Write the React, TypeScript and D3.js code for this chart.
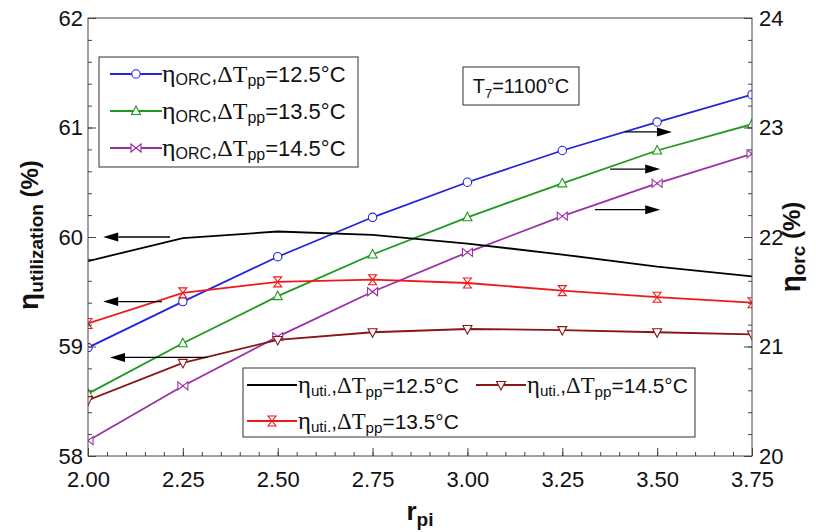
import React, { useEffect, useRef } from "react";
import * as d3 from "d3";

// data
const rpi = [2.0, 2.25, 2.5, 2.75, 3.0, 3.25, 3.5, 3.75];

// ORC efficiency (right axis, %)
const orc125 = [20.99, 21.41, 21.82, 22.18, 22.5, 22.79, 23.05, 23.3];
const orc135 = [20.57, 21.03, 21.46, 21.84, 22.18, 22.49, 22.79, 23.03];
const orc145 = [20.14, 20.64, 21.09, 21.5, 21.86, 22.19, 22.49, 22.76];

// utilization efficiency (left axis, %)
const uti125 = [59.78, 59.99, 60.05, 60.02, 59.94, 59.84, 59.73, 59.64];
const uti135 = [59.21, 59.49, 59.59, 59.61, 59.58, 59.51, 59.45, 59.4];
const uti145 = [58.51, 58.85, 59.06, 59.13, 59.16, 59.15, 59.13, 59.11];

const xTicks = [2.0, 2.25, 2.5, 2.75, 3.0, 3.25, 3.5, 3.75];
const leftTicks = [58, 59, 60, 61, 62];
const rightTicks = [20, 21, 22, 23, 24];

// arrows: [y, fromX, toX]
const leftArrows = [
  [60.0, 2.216, 2.04],
  [59.41, 2.195, 2.04],
  [58.9, 2.314, 2.058],
];
const rightArrows = [
  [22.96, 3.415, 3.539],
  [22.62, 3.376, 3.508],
  [22.25, 3.336, 3.508],
];

const W = 816;
const H = 532;
const M = { left: 88, right: 752, top: 18, bottom: 456 };

const x = d3.scaleLinear().domain([2, 3.75]).range([M.left, M.right]);
const yL = d3.scaleLinear().domain([58, 62]).range([M.bottom, M.top]);
const yR = d3.scaleLinear().domain([20, 24]).range([M.bottom, M.top]);

const SANS = "'Liberation Sans', Arial, sans-serif";
const SERIF = "'Liberation Serif', 'Times New Roman', serif";

const markerPath = (kind) => {
  if (kind === "circle") return d3.symbol(d3.symbolCircle, 55)();
  if (kind === "up") return "M0,-5L4.5,3.5L-4.5,3.5Z";
  if (kind === "down") return "M0,5L4.5,-3.5L-4.5,-3.5Z";
  if (kind === "bowtie") return "M-5,-4L-5,4L5,-4L5,4Z";
  if (kind === "hourglass") return "M-4,-5L4,-5L-4,5L4,5Z";
  return null;
};

const series = [
  { vals: orc125, scale: yR, color: "#2424dc", marker: "circle" },
  { vals: orc135, scale: yR, color: "#1f9a1f", marker: "up" },
  { vals: orc145, scale: yR, color: "#9a30a6", marker: "bowtie" },
  { vals: uti125, scale: yL, color: "#000000", marker: null },
  { vals: uti135, scale: yL, color: "#f01818", marker: "hourglass" },
  { vals: uti145, scale: yL, color: "#8a1515", marker: "down" },
];

const Marker = ({ kind, color, cx, cy }) => {
  const d = markerPath(kind);
  if (!d) return null;
  return (
    <path
      d={d}
      transform={`translate(${cx},${cy})`}
      fill="#fff"
      stroke={color}
      strokeWidth={1.1}
    />
  );
};

const EtaLabel = ({ sub, val, k = 1 }) => (
  <>
    <tspan fontFamily={SERIF} fontSize={26 * k}>η</tspan>
    <tspan fontSize={16 * k} dy={3}>{sub}</tspan>
    <tspan fontSize={22 * k} dy={-3}>,</tspan>
    <tspan fontFamily={SERIF} fontSize={24 * k}>ΔT</tspan>
    <tspan fontSize={16 * k} dy={4}>pp</tspan>
    <tspan fontSize={22 * k} dy={-4}>{`=${val}°C`}</tspan>
  </>
);

const Arrow = ({ x1, x2, y }) => {
  const dir = x2 > x1 ? 1 : -1;
  const head = 15;
  return (
    <g>
      <line x1={x1} y1={y} x2={x2 - dir * head} y2={y} stroke="#000" strokeWidth={1.3} />
      <path
        d={`M${x2},${y}L${x2 - dir * head},${y - 4.5}L${x2 - dir * head},${y + 4.5}Z`}
        fill="#000"
      />
    </g>
  );
};

const App = () => {
  const axesRef = useRef(null);

  useEffect(() => {
    const g = d3.select(axesRef.current);
    g.selectAll("*").remove();

    const style = (sel) => {
      sel.selectAll("path").remove();
      sel.selectAll("line").attr("stroke", "#444").attr("stroke-width", 1);
      sel
        .selectAll("text")
        .attr("font-family", SANS)
        .attr("font-size", 22)
        .attr("fill", "#111");
    };

    const minorX = d3.range(2, 3.7501, 0.05);
    const minorY = d3.range(58, 62.001, 0.2);
    const minorYR = d3.range(20, 24.001, 0.2);

    g.append("g")
      .attr("transform", `translate(0,${M.bottom})`)
      .call(d3.axisBottom(x).tickValues(minorX).tickSize(-4).tickFormat(() => ""))
      .call(style);
    g.append("g")
      .attr("transform", `translate(0,${M.bottom})`)
      .call(
        d3.axisBottom(x).tickValues(xTicks).tickSize(-8).tickPadding(15).tickFormat(d3.format(".2f"))
      )
      .call(style);

    g.append("g")
      .attr("transform", `translate(${M.left},0)`)
      .call(d3.axisLeft(yL).tickValues(minorY).tickSize(-4).tickFormat(() => ""))
      .call(style);
    g.append("g")
      .attr("transform", `translate(${M.left},0)`)
      .call(d3.axisLeft(yL).tickValues(leftTicks).tickSize(-8).tickPadding(5).tickFormat(d3.format("d")))
      .call(style);

    g.append("g")
      .attr("transform", `translate(${M.right},0)`)
      .call(d3.axisRight(yR).tickValues(minorYR).tickSize(-4).tickFormat(() => ""))
      .call(style);
    g.append("g")
      .attr("transform", `translate(${M.right},0)`)
      .call(d3.axisRight(yR).tickValues(rightTicks).tickSize(-8).tickPadding(7).tickFormat(d3.format("d")))
      .call(style);
  }, []);

  return (
    <svg
      width={W}
      height={H}
      style={{ position: "absolute", left: 0, top: 0, background: "#fff" }}
      fontFamily={SANS}
    >
      <rect x={0} y={0} width={W} height={H} fill="#fff" />

      <defs>
        <clipPath id="plot">
          <rect x={M.left} y={M.top} width={M.right - M.left} height={M.bottom - M.top} />
        </clipPath>
      </defs>

      <g clipPath="url(#plot)">
        {series.map((s, i) => {
          const line = d3
            .line()
            .x((d, j) => x(rpi[j]))
            .y((d) => s.scale(d));
          return (
            <g key={i}>
              <path d={line(s.vals)} fill="none" stroke={s.color} strokeWidth={1.8} />
              {s.vals.map((v, j) => (
                <Marker key={j} kind={s.marker} color={s.color} cx={x(rpi[j])} cy={s.scale(v)} />
              ))}
            </g>
          );
        })}
      </g>

      {leftArrows.map((a, i) => (
        <Arrow key={"l" + i} x1={x(a[1])} x2={x(a[2])} y={yL(a[0])} />
      ))}
      {rightArrows.map((a, i) => (
        <Arrow key={"r" + i} x1={x(a[1])} x2={x(a[2])} y={yR(a[0])} />
      ))}

      <rect
        x={M.left}
        y={M.top}
        width={M.right - M.left}
        height={M.bottom - M.top}
        fill="none"
        stroke="#444"
        strokeWidth={1}
      />

      <g ref={axesRef} />

      {/* ORC legend */}
      <rect x={99} y={57} width={259} height={110} fill="#fff" stroke="#333" strokeWidth={1} />
      {[
        ["ORC", "12.5", 0],
        ["ORC", "13.5", 1],
        ["ORC", "14.5", 2],
      ].map(([sub, val, i]) => (
        <g key={"lo" + i}>
          <line x1={110} x2={162} y1={74 + i * 37} y2={74 + i * 37} stroke={series[i].color} strokeWidth={1.8} />
          <Marker kind={series[i].marker} color={series[i].color} cx={136} cy={74 + i * 37} />
          <text x={162} y={82 + i * 37} fill="#111" fontSize={22}>
            <EtaLabel sub={sub} val={val} />
          </text>
        </g>
      ))}

      {/* utilization legend */}
      <rect x={243} y={368} width={452} height={69} fill="#fff" stroke="#333" strokeWidth={1} />
      {[
        [3, 247, 385, "12.5"],
        [5, 476, 385, "14.5"],
        [4, 247, 421, "13.5"],
      ].map(([si, lx, ly, val]) => (
        <g key={"lu" + si}>
          <line x1={lx} x2={lx + 50} y1={ly} y2={ly} stroke={series[si].color} strokeWidth={1.8} />
          <Marker kind={series[si].marker} color={series[si].color} cx={lx + 25} cy={ly} />
          <text x={lx + 51} y={ly + 8} fill="#111" fontSize={21}>
            <EtaLabel sub="uti." val={val} k={0.95} />
          </text>
        </g>
      ))}

      {/* T7 box */}
      <rect x={463} y={67} width={116} height={38} fill="#fff" stroke="#333" strokeWidth={1} />
      <text x={521} y={93} textAnchor="middle" fontSize={20} fill="#111">
        T<tspan fontSize={13} dy={5}>7</tspan>
        <tspan dy={-5}>=1100°C</tspan>
      </text>

      {/* axis titles */}
      <text x={420} y={520} textAnchor="middle" fontWeight="bold" fill="#111">
        <tspan fontSize={26}>r</tspan>
        <tspan fontSize={19} dy={6}>pi</tspan>
      </text>

      <text
        transform={`translate(38,${(M.top + M.bottom) / 2 - 2}) rotate(-90)`}
        textAnchor="middle"
        fontWeight="bold"
        fill="#111"
      >
        <tspan fontSize={28}>η</tspan>
        <tspan fontSize={19} dy={5}>utilization</tspan>
        <tspan fontSize={24} dy={-5}> (%)</tspan>
      </text>

      <text
        transform={`translate(800,${(M.top + M.bottom) / 2 + 10}) rotate(-90)`}
        textAnchor="middle"
        fontWeight="bold"
        fill="#111"
      >
        <tspan fontSize={28}>η</tspan>
        <tspan fontSize={19} dy={5}>orc</tspan>
        <tspan fontSize={24} dy={-5}> (%)</tspan>
      </text>
    </svg>
  );
};

export default App;
